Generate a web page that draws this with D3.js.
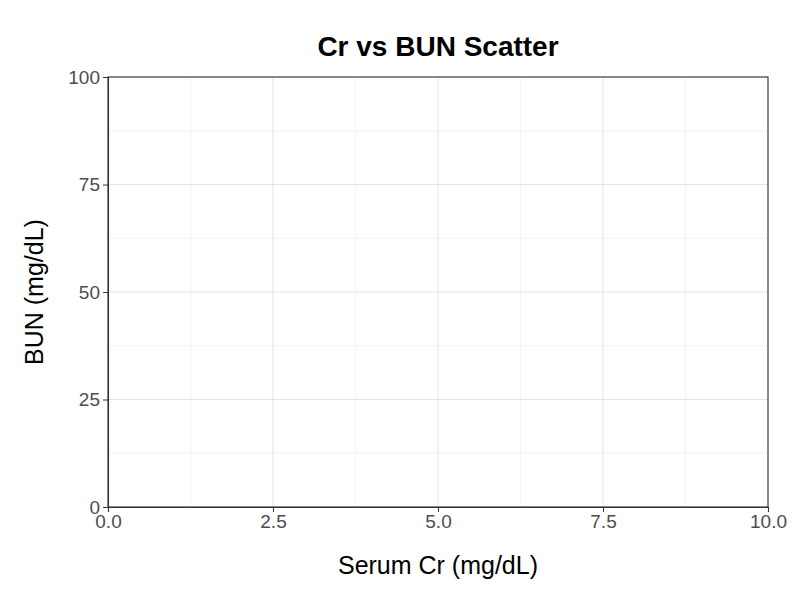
<!DOCTYPE html>
<html><head><meta charset="utf-8">
<script src="https://cdn.jsdelivr.net/npm/d3@7"></script>
<style>body{margin:0;background:#fff}</style>
</head><body>
<svg id="c" width="800" height="600"></svg>
<script>
const creatinine = [];
const bun = [];
const xTicks = [0, 2.5, 5, 7.5, 10];
const yTicks = [0, 25, 50, 75, 100];
const xMinor = [1.25, 3.75, 6.25, 8.75];
const yMinor = [12.5, 37.5, 62.5, 87.5];

const svg = d3.select("#c");
const m = {l:108, r:768, t:77, b:507};
const x = d3.scaleLinear().domain([0,10]).range([m.l,m.r]);
const y = d3.scaleLinear().domain([0,100]).range([m.b,m.t]);
const font = "Liberation Sans, Arial, sans-serif";

const g = svg.append("g");
g.selectAll(".xm").data(xMinor).join("line").attr("x1",d=>x(d)).attr("x2",d=>x(d)).attr("y1",m.t).attr("y2",m.b).attr("stroke","#ebebeb").attr("stroke-width",0.6);
g.selectAll(".ym").data(yMinor).join("line").attr("y1",d=>y(d)).attr("y2",d=>y(d)).attr("x1",m.l).attr("x2",m.r).attr("stroke","#ebebeb").attr("stroke-width",0.6);
g.selectAll(".xg").data(xTicks).join("line").attr("x1",d=>x(d)).attr("x2",d=>x(d)).attr("y1",m.t).attr("y2",m.b).attr("stroke","#dcdcdc").attr("stroke-width",0.8);
g.selectAll(".yg").data(yTicks).join("line").attr("y1",d=>y(d)).attr("y2",d=>y(d)).attr("x1",m.l).attr("x2",m.r).attr("stroke","#dcdcdc").attr("stroke-width",0.8);

svg.selectAll("circle").data(creatinine.map((c,i)=>[c,bun[i]])).join("circle")
  .attr("cx",d=>x(d[0])).attr("cy",d=>y(d[1])).attr("r",3).attr("fill","#333");

svg.append("rect").attr("x",m.l).attr("y",m.t).attr("width",m.r-m.l).attr("height",m.b-m.t)
  .attr("fill","none").attr("stroke","#333").attr("stroke-width",1.1);

const xa = svg.append("g").attr("transform",`translate(0,${m.b})`)
  .call(d3.axisBottom(x).tickValues(xTicks).tickFormat(d3.format(".1f")).tickSize(5).tickPadding(3));
const ya = svg.append("g").attr("transform",`translate(${m.l},0)`)
  .call(d3.axisLeft(y).tickValues(yTicks).tickSize(5).tickPadding(3));
[xa,ya].forEach(a=>{
  a.attr("font-size",null).attr("font-family",null);
  a.select(".domain").attr("stroke","#333").attr("stroke-width",1.1);
  a.selectAll(".tick line").attr("stroke","#333");
  a.selectAll("text").attr("fill","#4d4d4d").style("font-family",font).style("font-size","19px");
});

svg.append("text").attr("x",(m.l+m.r)/2).attr("y",56).attr("text-anchor","middle")
  .style("font-family",font).style("font-size","28px").style("font-weight","bold").text("Cr vs BUN Scatter");
svg.append("text").attr("x",(m.l+m.r)/2).attr("y",574).attr("text-anchor","middle")
  .style("font-family",font).style("font-size","25px").text("Serum Cr (mg/dL)");
svg.append("text").attr("transform",`translate(43,${(m.t+m.b)/2}) rotate(-90)`).attr("text-anchor","middle")
  .style("font-family",font).style("font-size","25px").text("BUN (mg/dL)");
</script>
</body></html>
